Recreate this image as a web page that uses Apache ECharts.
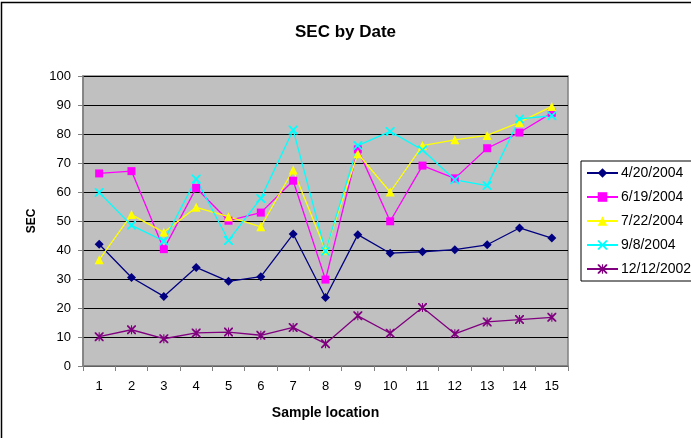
<!DOCTYPE html>
<html>
<head>
<meta charset="utf-8">
<script src="https://cdn.jsdelivr.net/npm/echarts@6/dist/echarts.min.js"></script>
<style>html,body{margin:0;padding:0;background:#fff;}#c{width:691px;height:438px;}</style>
</head>
<body>
<div id="c"></div>
<script>
const categories = ['1','2','3','4','5','6','7','8','9','10','11','12','13','14','15'];
const seriesNames = ['4/20/2004','6/19/2004','7/22/2004','9/8/2004','12/12/2002'];
const s0420 = [42.0, 30.5, 24.0, 34.0, 29.2, 30.8, 45.5, 23.6, 45.3, 38.9, 39.4, 40.1, 41.8, 47.6, 44.1];
const s0619 = [66.4, 67.2, 40.3, 61.4, 50.1, 52.9, 63.9, 29.8, 74.7, 49.9, 69.1, 64.7, 75.1, 80.5, 87.3];
const s0722 = [36.6, 52.2, 46.1, 54.7, 51.5, 48.0, 67.6, 39.9, 73.2, 60.0, 76.0, 78.0, 79.5, 84.0, 89.5];
const s0908 = [59.8, 48.5, 43.1, 64.5, 43.3, 57.8, 81.4, 39.6, 76.0, 80.9, 74.5, 64.2, 62.2, 85.2, 86.3];
const s1212 = [10.1, 12.5, 9.4, 11.4, 11.7, 10.6, 13.3, 7.7, 17.3, 11.3, 20.2, 11.1, 15.2, 16.0, 16.8];
const yTicks = {min: 0, max: 100, interval: 10};

const xPath = 'path://M0,0 L1.4,0 L5,3.6 L8.6,0 L10,0 L10,1.4 L6.4,5 L10,8.6 L10,10 L8.6,10 L5,6.4 L1.4,10 L0,10 L0,8.6 L3.6,5 L0,1.4 Z';
const starPath = 'path://M0,0 L1.4,0 L5,3.6 L8.6,0 L10,0 L10,1.4 L6.4,5 L10,8.6 L10,10 L8.6,10 L5,6.4 L1.4,10 L0,10 L0,8.6 L3.6,5 L0,1.4 Z M4.4,0 L5.6,0 L5.6,10 L4.4,10 Z';

const font = 'Liberation Sans, Arial, sans-serif';
function mk(name, data, color, symbol, size) {
  return {
    name: name, type: 'line', data: data,
    symbol: symbol, symbolSize: size,
    lineStyle: {color: color, width: 1.3},
    itemStyle: {color: color},
    emphasis: {disabled: true},
    animation: false
  };
}
const chart = echarts.init(document.getElementById('c'), null, {renderer: 'canvas'});
chart.setOption({
  animation: false,
  backgroundColor: '#fff',
  title: {
    text: 'SEC by Date', left: 'center', top: 19,
    textStyle: {fontFamily: font, fontSize: 17, fontWeight: 'bold', color: '#000'}
  },
  legend: {
    orient: 'vertical', left: 581, top: 161,
    borderColor: '#000', borderWidth: 1,
    padding: [5, 30, 5, 5],
    itemWidth: 31, itemHeight: 12, itemGap: 10,
    textStyle: {fontFamily: font, fontSize: 14, color: '#000', padding: [0,0,0,-2]},
    data: seriesNames
  },
  graphic: [{
    type: 'rect', shape: {x: 1.5, y: 2.5, width: 800, height: 800},
    style: {fill: 'none', stroke: '#000', lineWidth: 1.5}, silent: true, z: 100
  }],
  grid: {
    left: 83, top: 76, right: 123, bottom: 72,
    show: true, backgroundColor: '#C0C0C0', borderColor: '#808080', borderWidth: 1.5
  },
  xAxis: {
    type: 'category', data: categories, boundaryGap: true,
    name: 'Sample location', nameLocation: 'middle', nameGap: 40,
    nameTextStyle: {fontFamily: font, fontSize: 14, fontWeight: 'bold', color: '#000'},
    axisLine: {lineStyle: {color: '#808080', width: 1.5}},
    axisTick: {show: true, length: 5, alignWithLabel: false, lineStyle: {color: '#808080'}},
    axisLabel: {fontFamily: font, fontSize: 13, color: '#000', margin: 14, interval: 0},
    splitLine: {show: false}
  },
  yAxis: {
    type: 'value', min: yTicks.min, max: yTicks.max, interval: yTicks.interval,
    name: 'SEC', nameLocation: 'middle', nameGap: 45, nameRotate: 90,
    nameTextStyle: {fontFamily: font, fontSize: 12, fontWeight: 'bold', color: '#000'},
    axisLine: {show: true, lineStyle: {color: '#808080', width: 1.5}},
    axisTick: {show: true, length: 5, lineStyle: {color: '#808080'}},
    axisLabel: {fontFamily: font, fontSize: 13, color: '#000', margin: 12},
    splitLine: {show: true, lineStyle: {color: '#000', width: 1}}
  },
  series: [
    mk(seriesNames[0], s0420, '#000080', 'diamond', 9),
    mk(seriesNames[1], s0619, '#FF00FF', 'rect', 8),
    mk(seriesNames[2], s0722, '#FFFF00', 'triangle', 9),
    mk(seriesNames[3], s0908, '#00FFFF', xPath, 9),
    mk(seriesNames[4], s1212, '#800080', starPath, 9)
  ]
});
</script>
</body>
</html>
